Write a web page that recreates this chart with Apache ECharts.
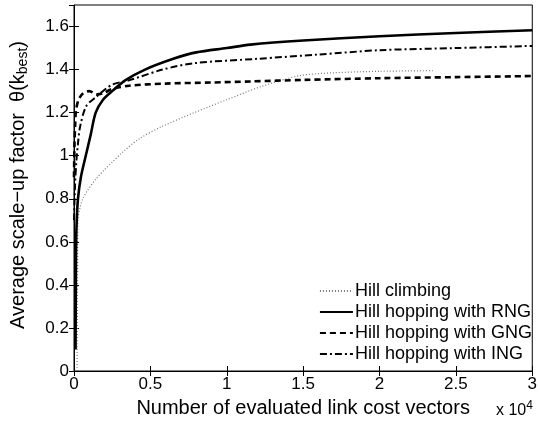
<!DOCTYPE html>
<html>
<head>
<meta charset="utf-8">
<script src="https://cdn.jsdelivr.net/npm/echarts@6/dist/echarts.min.js"></script>
<style>
  html, body { margin: 0; padding: 0; background: #fff; }
  #chart { width: 540px; height: 424px; }
</style>
</head>
<body>
<div id="chart"></div>
<script>
// data (x = evaluated vectors, y = scale-up factor)
var climbX = [200, 230, 260, 400, 580, 900, 1420, 2000, 2500, 3160, 4300, 5740, 7870, 10000, 12200, 14770, 17000, 20000, 23480];
var climbY = [0, 0.4, 0.7, 0.76, 0.8, 0.84, 0.89, 0.935, 0.97, 1.015, 1.08, 1.135, 1.2, 1.26, 1.32, 1.372, 1.385, 1.392, 1.395];

var rngX = [100, 120, 140, 180, 260, 450, 770, 1100, 1420, 1900, 2500, 3350, 4650, 6500, 8000, 10000, 11550, 15000, 20000, 25000, 30000];
var rngY = [0.1, 0.4, 0.6, 0.7, 0.8, 0.9, 1.0, 1.1, 1.2, 1.26, 1.3, 1.35, 1.4, 1.45, 1.48, 1.5, 1.516, 1.535, 1.555, 1.57, 1.583];

var gngX = [0, 30, 80, 130, 300, 600, 1000, 1500, 1900, 2500, 3600, 6000, 9000, 11550, 15000, 20000, 25000, 30000];
var gngY = [0.9, 1.05, 1.15, 1.21, 1.26, 1.29, 1.3, 1.285, 1.29, 1.31, 1.325, 1.335, 1.34, 1.345, 1.352, 1.36, 1.365, 1.37];

var ingX = [0, 60, 150, 250, 400, 800, 1400, 2500, 3600, 5800, 7900, 12000, 16000, 20000, 25000, 30000];
var ingY = [0.7, 0.85, 0.97, 1.05, 1.135, 1.23, 1.27, 1.33, 1.35, 1.4, 1.43, 1.45, 1.47, 1.49, 1.5, 1.51];

var seriesNames = ['Hill climbing', 'Hill hopping with RNG', 'Hill hopping with GNG', 'Hill hopping with ING'];
var xTicks = [0, 5000, 10000, 15000, 20000, 25000, 30000];
var yTicks = [0, 0.2, 0.4, 0.6, 0.8, 1, 1.2, 1.4, 1.6];

function pairs(xs, ys) {
  return xs.map(function (x, i) { return [x, ys[i]]; });
}

var font = 'Liberation Sans, Arial, sans-serif';
var myChart = echarts.init(document.getElementById('chart'), null, { renderer: 'canvas' });

var option = {
  backgroundColor: '#fff',
  animation: false,
  textStyle: { fontFamily: font },
  grid: {
    left: 71, right: 4, top: 5, bottom: 53,
    show: true, borderColor: '#000', borderWidth: 1, backgroundColor: 'transparent'
  },
  legend: {
    orient: 'vertical',
    right: 3, top: 277,
    itemWidth: 33, itemHeight: 10, itemGap: 3,
    itemStyle: { opacity: 0 },
    textStyle: { fontSize: 18, lineHeight: 18, color: '#000', fontFamily: font, padding: [0, 0, 0, -3] },
    data: seriesNames
  },
  xAxis: [{
    type: 'value',
    min: 0, max: 30000, interval: 5000,
    name: 'Number of evaluated link cost vectors',
    nameLocation: 'middle',
    nameGap: 27,
    nameTextStyle: { fontSize: 20, color: '#000' },
    axisLine: { show: true, lineStyle: { color: '#000', width: 1 } },
    axisTick: { show: true, inside: true, length: 5, lineStyle: { color: '#000' } },
    axisLabel: {
      color: '#000', fontSize: 17, margin: 5,
      formatter: function (v) { return xTicks.indexOf(v) >= 0 ? String(v / 10000) : ''; }
    },
    splitLine: { show: false }
  }, {
    type: 'value', position: 'top',
    min: 0, max: 30000, interval: 5000,
    axisLine: { show: false },
    axisTick: { show: true, inside: true, length: 5, lineStyle: { color: '#000' } },
    axisLabel: { show: false },
    splitLine: { show: false }
  }],
  yAxis: [{
    type: 'value',
    min: 0, max: 1.7, interval: 0.2,
    name: 'Average scale\u2212up factor  \u03b8(k{sub|best})',
    nameLocation: 'middle',
    nameGap: 44,
    nameRotate: 90,
    nameTextStyle: {
      fontSize: 20, color: '#000', padding: [0, 0, 0, 6],
      rich: { sub: { fontSize: 14, verticalAlign: 'bottom', padding: [10, 0, 0, 0] } }
    },
    axisLine: { show: true, lineStyle: { color: '#000', width: 1 } },
    axisTick: { show: true, inside: true, length: 5, lineStyle: { color: '#000' } },
    axisLabel: {
      color: '#000', fontSize: 17, margin: 5,
      showMaxLabel: false,
      formatter: function (v) {
        var r = Math.round(v * 10) / 10;
        return yTicks.indexOf(r) >= 0 ? String(r) : '';
      }
    },
    splitLine: { show: false }
  }, {
    type: 'value', position: 'right',
    min: 0, max: 1.7, interval: 0.2,
    axisLine: { show: false },
    axisTick: { show: true, inside: true, length: 5, lineStyle: { color: '#000' } },
    axisLabel: { show: false },
    splitLine: { show: false }
  }],
  graphic: [{
    type: 'text',
    left: 496, top: 400,
    style: { text: 'x 10{sup|4}', fill: '#000', font: '16px ' + font,
      rich: { sup: { fontSize: 12, verticalAlign: 'top', padding: [0, 0, 9, 0] } } }
  }],
  series: [{
    name: seriesNames[0], type: 'line', data: pairs(climbX, climbY),
    symbol: 'none', smooth: 0.3,
    lineStyle: { color: '#777', width: 1.2, type: [1, 2] },
    itemStyle: { color: '#777' }
  }, {
    name: seriesNames[1], type: 'line', data: pairs(rngX, rngY),
    symbol: 'none', smooth: 0.3,
    lineStyle: { color: '#000', width: 2.6, type: 'solid' },
    itemStyle: { color: '#000' }
  }, {
    name: seriesNames[2], type: 'line', data: pairs(gngX, gngY),
    symbol: 'none', smooth: 0.3,
    lineStyle: { color: '#000', width: 2.6, type: [6, 4] },
    itemStyle: { color: '#000' }
  }, {
    name: seriesNames[3], type: 'line', data: pairs(ingX, ingY),
    symbol: 'none', smooth: 0.3,
    lineStyle: { color: '#000', width: 2, type: [7, 3, 2, 3] },
    itemStyle: { color: '#000' }
  }]
};

myChart.setOption(option);
</script>
</body>
</html>
